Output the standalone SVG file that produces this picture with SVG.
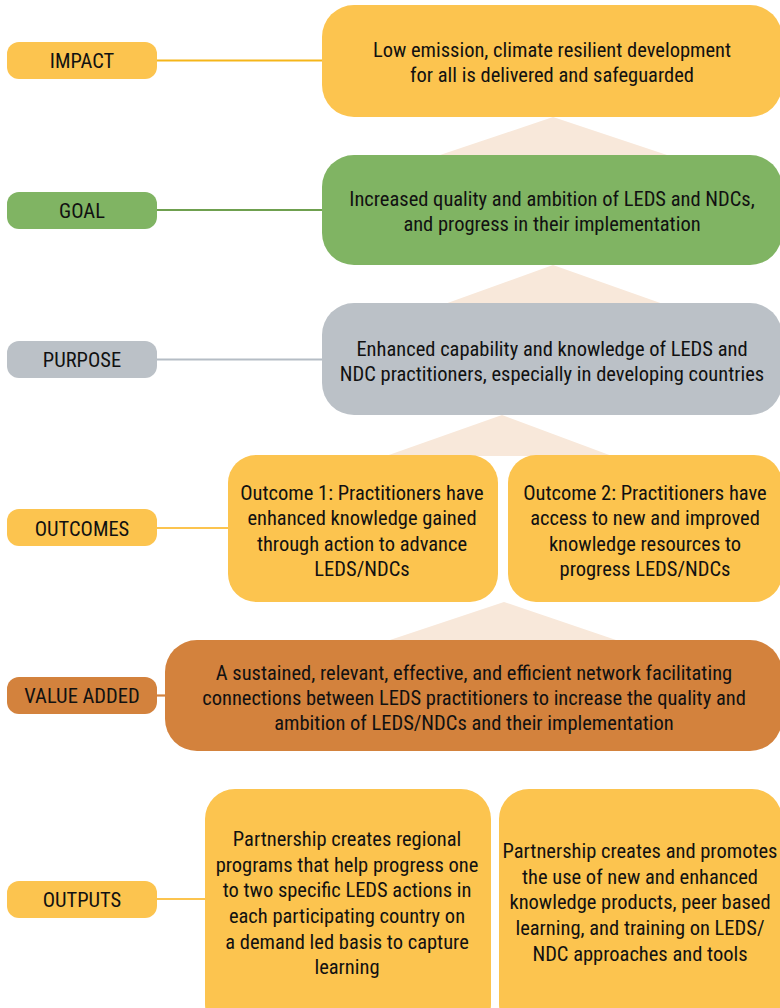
<svg xmlns="http://www.w3.org/2000/svg" width="780" height="1008" viewBox="0 0 780 1008">
<style>
text{font-family:"Liberation Sans Narrow","Roboto Condensed","DejaVu Sans Condensed",sans-serif;font-stretch:condensed;font-size:20.5px;fill:#111;text-anchor:middle}
.y{fill:#FCC44F}.g{fill:#80B463}.s{fill:#BBC1C7}.o{fill:#D3823D}
.tri{fill:#F8E8DA}
.c{stroke-width:2.2;fill:none}
</style>
<rect width="780" height="1008" fill="#fff"/>
<g id="pyramids">
<polygon class="tri" points="553,117 440,155 667,155"/>
<polygon class="tri" points="553,265 442,305 666,305"/>
<polygon class="tri" points="502,415 386,456 612,456"/>
<polygon class="tri" points="504,602 390,640 616,640"/>
</g>
<g id="connectors">
<line class="c" x1="156" y1="60.5" x2="324" y2="60.5" stroke="#F5B61A"/>
<line class="c" x1="156" y1="210" x2="324" y2="210" stroke="#6FA04F"/>
<line class="c" x1="156" y1="359.5" x2="324" y2="359.5" stroke="#B5BDC5"/>
<line class="c" x1="156" y1="528" x2="230" y2="528" stroke="#FCC44F"/>
<line class="c" x1="156" y1="695.5" x2="167" y2="695.5" stroke="#D3823D"/>
<line class="c" x1="156" y1="899" x2="207" y2="899" stroke="#FCC44F"/>
</g>
<g id="impact-label"><rect class="y" x="7" y="42" width="150" height="37" rx="12"/><text x="82" y="68">IMPACT</text></g>
<g id="impact"><rect class="y" x="322" y="5" width="460" height="112" rx="32"/>
<text x="552" y="56.5">Low emission, climate resilient development</text>
<text x="552" y="81.5">for all is delivered and safeguarded</text></g>
<g id="goal-label"><rect class="g" x="7" y="192" width="150" height="37" rx="12"/><text x="82" y="218">GOAL</text></g>
<g id="goal"><rect class="g" x="322" y="155" width="460" height="110" rx="32"/>
<text x="552" y="205.5">Increased quality and ambition of LEDS and NDCs,</text>
<text x="552" y="230.5">and progress in their implementation</text></g>
<g id="purpose-label"><rect class="s" x="7" y="341" width="150" height="37" rx="12"/><text x="82" y="367">PURPOSE</text></g>
<g id="purpose"><rect class="s" x="322" y="303" width="460" height="112" rx="32"/>
<text x="552" y="355.5">Enhanced capability and knowledge of LEDS and</text>
<text x="552" y="380.5">NDC practitioners, especially in developing countries</text></g>
<g id="outcomes-label"><rect class="y" x="7" y="509" width="150" height="37" rx="12"/><text x="82" y="535.5">OUTCOMES</text></g>
<g id="outcome1"><rect class="y" x="228" y="455" width="270" height="147" rx="28"/>
<text x="362" y="499.5">Outcome 1: Practitioners have</text>
<text x="362" y="525">enhanced knowledge gained</text>
<text x="362" y="550.5">through action to advance</text>
<text x="362" y="576">LEDS/NDCs</text></g>
<g id="outcome2"><rect class="y" x="508" y="455" width="274" height="147" rx="28"/>
<text x="645" y="499.5">Outcome 2: Practitioners have</text>
<text x="645" y="525">access to new and improved</text>
<text x="645" y="550.5">knowledge resources to</text>
<text x="645" y="576">progress LEDS/NDCs</text></g>
<g id="value-label"><rect class="o" x="7" y="677" width="150" height="37" rx="12"/><text x="82" y="703">VALUE ADDED</text></g>
<g id="value"><rect class="o" x="165" y="640" width="617" height="111" rx="32"/>
<text x="474" y="679.5">A sustained, relevant, effective, and efficient network facilitating</text>
<text x="474" y="704.5">connections between LEDS practitioners to increase the quality and</text>
<text x="474" y="729.5">ambition of LEDS/NDCs and their implementation</text></g>
<g id="outputs-label"><rect class="y" x="7" y="881" width="150" height="37" rx="12"/><text x="82" y="907">OUTPUTS</text></g>
<g id="output1"><rect class="y" x="205" y="789" width="286" height="245" rx="30"/>
<text x="347" y="845.5">Partnership creates regional</text>
<text x="347" y="871.5">programs that help progress one</text>
<text x="347" y="897">to two specific LEDS actions in</text>
<text x="347" y="922.5">each participating country on</text>
<text x="347" y="948.5">a demand led basis to capture</text>
<text x="347" y="974">learning</text></g>
<g id="output2"><rect class="y" x="499" y="789" width="283" height="245" rx="30"/>
<text x="640" y="857.5">Partnership creates and promotes</text>
<text x="640" y="883.5">the use of new and enhanced</text>
<text x="640" y="909">knowledge products, peer based</text>
<text x="640" y="934.5">learning, and training on LEDS/</text>
<text x="640" y="960.5">NDC approaches and tools</text></g>
</svg>
